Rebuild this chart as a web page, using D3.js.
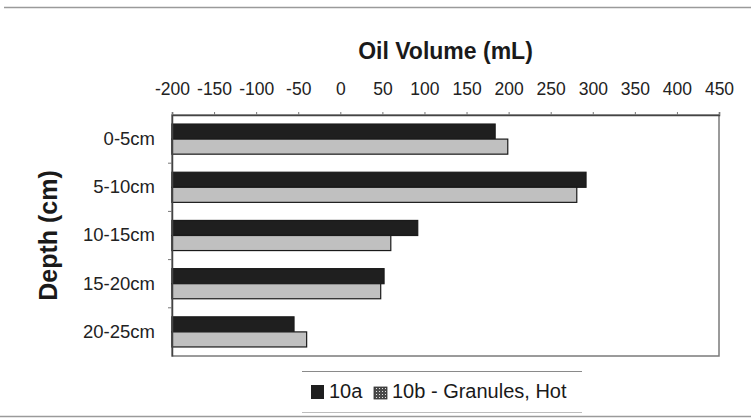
<!DOCTYPE html>
<html>
<head>
<meta charset="utf-8">
<script src="https://cdn.jsdelivr.net/npm/d3@7"></script>
<style>
  html, body { margin: 0; padding: 0; background: #fff; }
  svg { display: block; font-family: "Liberation Sans", Arial, sans-serif; }
</style>
</head>
<body>
<svg id="chart" width="751" height="419"></svg>
<script>
// ---- data ----
const categories = ["0-5cm", "5-10cm", "10-15cm", "15-20cm", "20-25cm"];
const seriesNames = ["10a", "10b - Granules, Hot"];
const values10a = [184, 292, 92, 52, -55];
const values10b = [199, 281, 60, 48, -40];
const xTicks = [-200, -150, -100, -50, 0, 50, 100, 150, 200, 250, 300, 350, 400, 450];
const xTitle = "Oil Volume (mL)";
const yTitle = "Depth (cm)";

const svg = d3.select("#chart");
const W = 751, H = 419;
const plot = { left: 172, right: 719, top: 115, bottom: 356 };
const FONT = "'Liberation Sans', Arial, sans-serif";

// pattern for 10b legend swatch
const defs = svg.append("defs");
const pat = defs.append("pattern").attr("id", "dots").attr("patternUnits", "userSpaceOnUse")
  .attr("width", 3).attr("height", 3);
pat.append("rect").attr("width", 3).attr("height", 3).attr("fill", "#4a4a4a");
pat.append("rect").attr("x", 1).attr("y", 1).attr("width", 1).attr("height", 1).attr("fill", "#e0e0e0");

// outer chart frame lines
svg.append("line").attr("x1", 4).attr("x2", W).attr("y1", 7.5).attr("y2", 7.5)
  .attr("stroke", "#9a9a9a").attr("stroke-width", 1.5);
svg.append("line").attr("x1", 0).attr("x2", W).attr("y1", 416.5).attr("y2", 416.5)
  .attr("stroke", "#9a9a9a").attr("stroke-width", 1.5);

const x = d3.scaleLinear().domain([xTicks[0], xTicks[xTicks.length - 1]]).range([plot.left, plot.right]);
const y = d3.scaleBand().domain(categories).range([plot.top, plot.bottom])
  .paddingInner(0.375).paddingOuter(0.1875);
const ys = d3.scaleBand().domain(seriesNames).range([0, y.bandwidth()]);
const color = d3.scaleOrdinal().domain(seriesNames).range(["#1f1f1f", "#c0c0c0"]);

// plot frame
svg.append("rect").attr("x", plot.left).attr("y", plot.top)
  .attr("width", plot.right - plot.left).attr("height", plot.bottom - plot.top)
  .attr("fill", "#fff").attr("stroke", "#7a7a7a").attr("stroke-width", 1.5);

// bars
const data = [];
categories.forEach((c, i) => {
  data.push({ cat: c, s: seriesNames[0], v: values10a[i] });
  data.push({ cat: c, s: seriesNames[1], v: values10b[i] });
});
const base = x.domain()[0];
svg.append("g").selectAll("rect").data(data).join("rect")
  .attr("x", x(base))
  .attr("y", d => y(d.cat) + ys(d.s))
  .attr("width", d => x(d.v) - x(base))
  .attr("height", ys.bandwidth())
  .attr("fill", d => color(d.s))
  .attr("stroke", "#1a1a1a").attr("stroke-width", 1.2);

// top axis
const xAxis = d3.axisTop(x).tickValues(xTicks).tickSize(3).tickPadding(17).tickFormat(d => String(d));
const gx = svg.append("g").attr("transform", `translate(0,${plot.top})`).call(xAxis);
gx.select(".domain").attr("stroke", "#444").attr("stroke-width", 1.5);
gx.selectAll(".tick line").attr("stroke", "#777");
gx.selectAll("text").attr("font-size", 17.5).attr("fill", "#222").attr("font-family", FONT);

// left axis
const yAxis = d3.axisLeft(y).tickSize(0).tickPadding(17);
const gy = svg.append("g").attr("transform", `translate(${plot.left},0)`).call(yAxis);
gy.select(".domain").attr("stroke", "#444").attr("stroke-width", 1.5);
gy.selectAll("text").attr("font-size", 18.5).attr("fill", "#222").attr("font-family", FONT);
// category boundary ticks
const bounds = categories.slice(1).map(c => y(c) - y.step() * y.paddingInner() / 2);
svg.append("g").selectAll("line").data(bounds).join("line")
  .attr("x1", plot.left - 4).attr("x2", plot.left)
  .attr("y1", d => d).attr("y2", d => d)
  .attr("stroke", "#777").attr("stroke-width", 1);

// titles
svg.append("text").attr("x", (plot.left + plot.right) / 2).attr("y", 59)
  .attr("text-anchor", "middle").attr("font-size", 23).attr("font-weight", "bold").attr("fill", "#1a1a1a")
  .attr("font-family", FONT).text(xTitle);
svg.append("text").attr("transform", `translate(57,${(plot.top + plot.bottom) / 2}) rotate(-90)`)
  .attr("text-anchor", "middle").attr("font-size", 25).attr("font-weight", "bold").attr("fill", "#1a1a1a")
  .attr("font-family", FONT).text(yTitle);

// legend
const lg = svg.append("g");
lg.append("line").attr("x1", 302).attr("x2", 582).attr("y1", 371.5).attr("y2", 371.5)
  .attr("stroke", "#8a8a8a").attr("stroke-width", 1.2);
lg.append("line").attr("x1", 302).attr("x2", 582).attr("y1", 412.5).attr("y2", 412.5)
  .attr("stroke", "#bcbcbc").attr("stroke-width", 1);
lg.append("rect").attr("x", 311).attr("y", 385).attr("width", 13).attr("height", 14).attr("fill", "#1f1f1f");
lg.append("text").attr("x", 329).attr("y", 398).attr("font-size", 20).attr("fill", "#1a1a1a")
  .attr("font-family", FONT).text(seriesNames[0]);
lg.append("rect").attr("x", 374).attr("y", 387).attr("width", 13).attr("height", 12)
  .attr("fill", "url(#dots)").attr("stroke", "#333").attr("stroke-width", 0.8);
lg.append("text").attr("x", 392).attr("y", 398).attr("font-size", 20).attr("fill", "#1a1a1a")
  .attr("font-family", FONT).text(seriesNames[1]);
</script>
</body>
</html>
